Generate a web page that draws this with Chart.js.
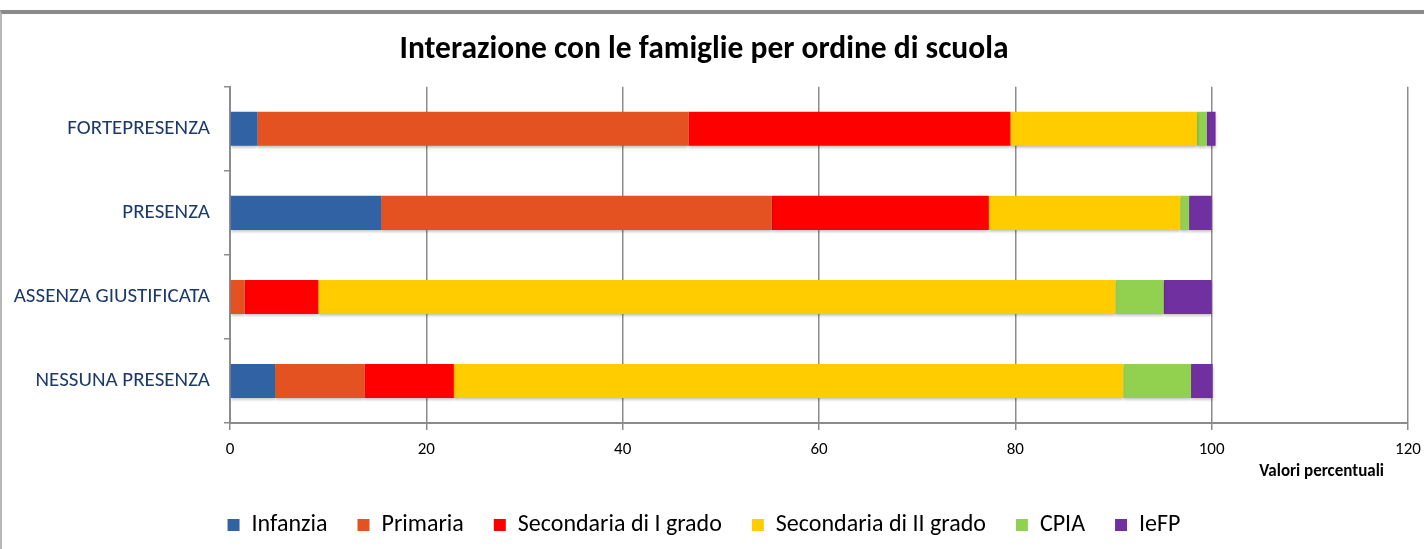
<!DOCTYPE html>
<html>
<head>
<meta charset="utf-8">
<script src="https://cdn.jsdelivr.net/npm/chart.js@4"></script>
<style>
  html, body { margin: 0; background: #fff; overflow: hidden; }
  #frame { position: absolute; left: 0; top: 10px; width: 1424px; height: 539px;
           border-top: 4px solid #8a8a8a; border-left: 2px solid #b8b8b8; box-sizing: border-box; }
  #chart { position: absolute; left: 0; top: 0; }
</style>
</head>
<body>
<div id="frame"></div>
<canvas id="chart" width="1424" height="549"></canvas>
<script>
// categories (top to bottom)
const categories = ['FORTEPRESENZA', 'PRESENZA', 'ASSENZA GIUSTIFICATA', 'NESSUNA PRESENZA'];

// percentuali per ordine di scuola
const infanzia     = [2.8, 15.4, 0, 4.6];
const primaria     = [43.9, 39.8, 1.5, 9.1];
const secondaria1  = [32.8, 22.1, 7.5, 9.1];
const secondaria2  = [19.0, 19.5, 81.2, 68.2];
const cpia         = [1.0, 0.9, 4.9, 6.9];
const iefp         = [0.9, 2.3, 4.9, 2.2];

const xTicks = [0, 20, 40, 60, 80, 100, 120];

const FONT = 'Carlito, Lato, sans-serif';

const series = [
  { label: 'Infanzia', data: infanzia, color: '#3162a3' },
  { label: 'Primaria', data: primaria, color: '#e55222' },
  { label: 'Secondaria di I grado', data: secondaria1, color: '#ff0000' },
  { label: 'Secondaria di II grado', data: secondaria2, color: '#ffcc00' },
  { label: 'CPIA', data: cpia, color: '#92d050' },
  { label: 'IeFP', data: iefp, color: '#7030a0' }
];

// soft shadow under the bars
const barShadow = {
  id: 'barShadow',
  beforeDatasetDraw(chart) {
    const c = chart.ctx;
    c.save();
    c.shadowColor = 'rgba(0,0,0,0.28)';
    c.shadowBlur = 3;
    c.shadowOffsetY = 2;
  },
  afterDatasetDraw(chart) {
    chart.ctx.restore();
  }
};

// "Valori percentuali" under the right end of the x axis
const axisNote = {
  id: 'axisNote',
  afterDraw(chart) {
    const c = chart.ctx;
    const x = chart.scales.x;
    c.save();
    c.font = 'bold 17px ' + FONT;
    c.fillStyle = '#000';
    c.textAlign = 'right';
    c.textBaseline = 'middle';
    c.fillText('Valori percentuali', x.getPixelForValue(120) - 24, chart.chartArea.bottom + 49);
    c.restore();
  }
};

new Chart(document.getElementById('chart'), {
  type: 'bar',
  data: {
    labels: categories,
    datasets: series.map(s => ({
      label: s.label,
      data: s.data,
      backgroundColor: s.color,
      borderWidth: 0,
      categoryPercentage: 1,
      barPercentage: 0.405
    }))
  },
  options: {
    indexAxis: 'y',
    responsive: false,
    animation: false,
    layout: { autoPadding: false, padding: { left: 0, right: 16, top: 0, bottom: 2 } },
    scales: {
      x: {
        stacked: true,
        min: 0,
        max: 120,
        afterBuildTicks: s => { s.ticks = xTicks.map(v => ({ value: v })); },
        // last label may overhang into the right padding
        afterFit: s => { s.height = 60; s.paddingRight = 0; },
        grid: { color: '#8c8c8c', lineWidth: 1.5, tickLength: 7 },
        border: { color: '#8c8c8c', width: 2 },
        ticks: { color: '#000', font: { family: FONT, size: 17 }, padding: 10, maxRotation: 0 }
      },
      y: {
        stacked: true,
        afterFit: s => { s.width = 230; },
        grid: { drawOnChartArea: false, color: '#8c8c8c', lineWidth: 1.5, tickLength: 6, offset: true },
        border: { color: '#8c8c8c', width: 2 },
        ticks: { color: '#1b3a6b', font: { family: FONT, size: 21 }, padding: 14 }
      }
    },
    plugins: {
      title: {
        display: true,
        text: 'Interazione con le famiglie per ordine di scuola',
        color: '#000',
        font: { family: FONT, size: 31.5, weight: 'bold', lineHeight: 1.2 },
        padding: { top: 31, bottom: 18 }
      },
      legend: {
        position: 'bottom',
        labels: {
          color: '#000',
          font: { family: FONT, size: 24 },
          boxWidth: 12,
          boxHeight: 12,
          padding: 30
        }
      },
      tooltip: { enabled: false }
    }
  },
  plugins: [barShadow, axisNote]
});
</script>
</body>
</html>
